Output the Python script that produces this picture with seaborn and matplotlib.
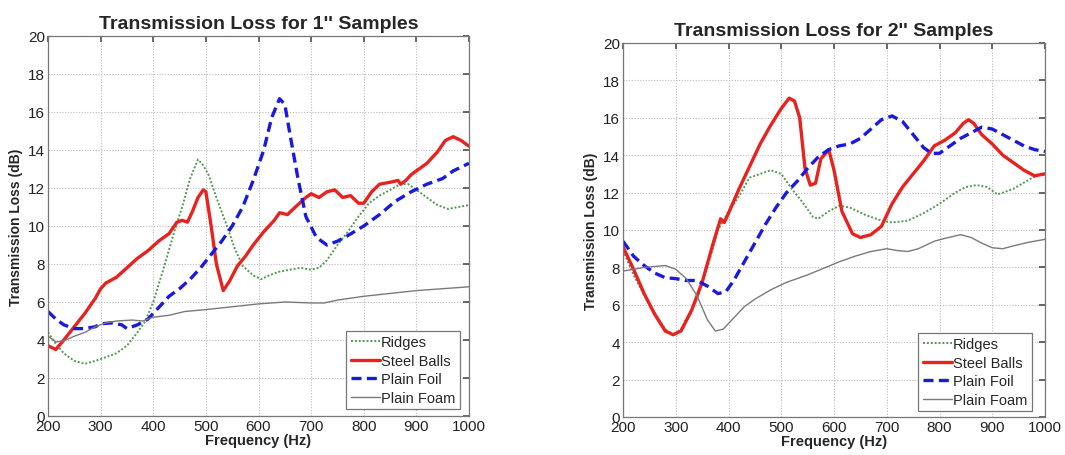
import numpy as np
import pandas as pd
import matplotlib
matplotlib.use("Agg")
import matplotlib.pyplot as plt
import seaborn as sns

# ---------------- Left panel: 1" samples ----------------
l_steel_f = [200,215,230,250,270,290,300,310,330,350,370,390,410,430,445,455,465,475,485,495,500,510,520,533,545,560,575,590,610,630,640,655,670,690,700,715,730,745,760,775,790,800,815,830,850,865,870,880,890,900,920,940,955,970,985,1000]
l_steel_v = [3.7,3.5,4.0,4.7,5.4,6.2,6.7,7.0,7.3,7.8,8.3,8.7,9.2,9.6,10.2,10.3,10.2,10.8,11.5,11.9,11.8,10.0,8.0,6.6,7.1,7.9,8.4,9.0,9.7,10.3,10.7,10.6,11.0,11.5,11.7,11.5,11.8,11.9,11.5,11.6,11.2,11.2,11.8,12.2,12.3,12.4,12.2,12.4,12.7,12.9,13.3,13.9,14.5,14.7,14.5,14.2]

l_foil_f = [200,215,230,250,270,290,300,320,340,350,370,390,410,430,450,470,490,510,530,550,570,590,610,625,640,650,660,675,690,710,730,750,770,800,830,860,890,920,950,970,1000]
l_foil_v = [5.5,5.1,4.8,4.6,4.6,4.7,4.85,4.9,4.8,4.6,4.8,5.1,5.7,6.3,6.7,7.2,7.8,8.5,9.2,10.0,11.0,12.4,14.0,15.7,16.7,16.4,14.8,12.5,10.5,9.4,9.0,9.2,9.5,10.0,10.6,11.3,11.8,12.2,12.5,12.9,13.3]

l_ridge_f = [200,215,230,250,270,290,310,330,350,370,385,400,420,440,455,470,485,495,505,520,540,555,570,590,605,620,640,660,680,700,715,730,750,770,790,810,830,850,870,885,900,920,940,960,980,1000]
l_ridge_v = [4.4,3.8,3.3,2.9,2.75,2.9,3.1,3.3,3.7,4.4,5.0,6.0,7.8,9.7,11.0,12.5,13.5,13.2,12.7,11.5,10.0,8.8,7.9,7.4,7.2,7.4,7.6,7.7,7.8,7.7,7.8,8.2,9.0,9.7,10.5,11.2,11.6,11.9,12.2,12.2,11.9,11.5,11.1,10.9,11.0,11.1]

l_foam_f = [200,215,230,250,270,290,310,330,360,380,400,430,460,500,550,600,650,700,725,750,800,850,900,950,1000]
l_foam_v = [4.2,3.9,3.95,4.2,4.4,4.7,4.9,5.0,5.05,5.0,5.2,5.3,5.5,5.6,5.75,5.9,6.0,5.95,5.95,6.1,6.3,6.45,6.6,6.7,6.8]

# ---------------- Right panel: 2" samples ----------------
r_steel_f = [200,220,240,260,280,295,310,330,350,370,385,392,400,420,440,460,480,500,515,525,535,545,555,565,575,590,600,615,635,650,670,690,710,730,750,770,790,810,830,845,855,865,880,900,920,940,960,980,1000]
r_steel_v = [9.1,7.9,6.6,5.5,4.6,4.4,4.6,5.7,7.2,9.2,10.6,10.4,10.9,12.2,13.4,14.6,15.6,16.5,17.05,16.9,16.0,13.3,12.4,12.5,13.8,14.3,13.2,11.0,9.8,9.6,9.75,10.2,11.4,12.3,13.0,13.7,14.5,14.8,15.2,15.7,15.9,15.7,15.1,14.6,14.0,13.6,13.2,12.9,13.0]

r_foil_f = [200,220,240,260,280,300,320,340,360,380,395,410,430,450,470,490,510,530,550,570,590,610,630,650,670,690,710,730,750,770,785,800,820,840,860,880,900,920,940,960,980,1000]
r_foil_v = [9.4,8.6,8.1,7.7,7.45,7.4,7.3,7.3,7.0,6.6,6.7,7.3,8.3,9.3,10.3,11.2,12.0,12.6,13.3,13.9,14.3,14.5,14.6,14.9,15.4,15.9,16.1,15.8,15.1,14.4,14.1,14.1,14.5,14.9,15.2,15.5,15.4,15.1,14.8,14.5,14.3,14.2]

r_ridge_f = [200,220,250,280,295,310,340,360,380,400,420,440,480,500,520,540,560,570,590,610,630,660,690,710,740,770,800,830,850,870,890,910,940,970,990,1000]
r_ridge_v = [8.9,7.6,6.0,4.7,4.4,4.7,6.3,8.0,10.0,11.0,11.8,12.8,13.2,13.0,12.2,11.5,10.7,10.6,11.0,11.3,11.2,10.8,10.5,10.4,10.5,10.9,11.4,12.0,12.3,12.4,12.3,11.9,12.2,12.7,13.0,13.0]

r_foam_f = [200,220,240,260,280,300,320,340,360,375,390,410,430,450,480,510,550,580,610,640,670,700,720,740,760,790,810,840,860,880,900,920,940,970,1000]
r_foam_v = [7.8,7.9,8.0,8.05,8.1,7.9,7.4,6.5,5.2,4.6,4.7,5.3,5.9,6.3,6.8,7.2,7.6,7.95,8.3,8.6,8.85,9.0,8.9,8.85,9.0,9.4,9.55,9.75,9.6,9.3,9.05,9.0,9.15,9.35,9.5]

titles = ["Transmission Loss for 1'' Samples", "Transmission Loss for 2'' Samples"]
series_names = ["Ridges", "Steel Balls", "Plain Foil", "Plain Foam"]
x_ticks = [200, 300, 400, 500, 600, 700, 800, 900, 1000]
y_ticks = [0, 2, 4, 6, 8, 10, 12, 14, 16, 18, 20]

sns.set_theme(style="white")
plt.rcParams['font.family'] = ['Liberation Sans', 'DejaVu Sans']

styles = {
    "Ridges": dict(color="#4f9a4f", linestyle=(0, (1, 1)), linewidth=1.4),
    "Steel Balls": dict(color="#e8231f", linestyle="-", linewidth=2.4),
    "Plain Foil": dict(color="#1a1adf", linestyle=(0, (3, 1.6)), linewidth=2.4),
    "Plain Foam": dict(color="#7a7a7a", linestyle="-", linewidth=1.0),
}

panels = [
    {"Ridges": (l_ridge_f, l_ridge_v), "Steel Balls": (l_steel_f, l_steel_v),
     "Plain Foil": (l_foil_f, l_foil_v), "Plain Foam": (l_foam_f, l_foam_v)},
    {"Ridges": (r_ridge_f, r_ridge_v), "Steel Balls": (r_steel_f, r_steel_v),
     "Plain Foil": (r_foil_f, r_foil_v), "Plain Foam": (r_foam_f, r_foam_v)},
]

fig = plt.figure(figsize=(10.65, 4.56), dpi=100)
ax_pos = [
    [48/1065, 1-417/456, (469-48)/1065, (417-37)/456],
    [623/1065, 1-418/456, (1045-623)/1065, (418-44)/456],
]
legend_anchor = [(460/1065, 1-410/456), (1032/1065, 1-412/456)]

for i, panel in enumerate(panels):
    ax = fig.add_axes(ax_pos[i])
    for name in series_names:
        f, v = panel[name]
        df = pd.DataFrame({"Frequency": f, "TL": v})
        st = styles[name]
        sns.lineplot(data=df, x="Frequency", y="TL", ax=ax, color=st["color"],
                     linewidth=st["linewidth"], label=name, estimator=None,
                     sort=True, legend=False)
        ax.lines[-1].set_linestyle(st["linestyle"])
        ax.lines[-1].set_label(name)
    ax.set_xlim(200, 1000)
    ax.set_ylim(0, 20)
    ax.set_xticks(x_ticks)
    ax.set_yticks(y_ticks)
    ax.tick_params(axis="both", direction="in", labelsize=11, length=4,
                   color="#555555", labelcolor="#222222", pad=2, top=True, right=True)
    ax.grid(True, color="#bbbbbb", linestyle=(0, (1, 1.5)), linewidth=0.8)
    for sp in ax.spines.values():
        sp.set_color("#777777")
        sp.set_linewidth(0.9)
    ax.set_xlabel("Frequency (Hz)", fontsize=10.5, fontweight="bold", labelpad=0)
    ax.set_ylabel("Transmission Loss (dB)", fontsize=10, fontweight="bold", labelpad=4)
    ax.set_title(titles[i], fontsize=14, fontweight="bold", pad=6)
    leg = ax.legend(loc="lower right", bbox_to_anchor=legend_anchor[i],
                    bbox_transform=fig.transFigure, fontsize=10.5, frameon=True,
                    fancybox=False, framealpha=1, edgecolor="#777777",
                    handlelength=2.0, handletextpad=0.1, labelspacing=0.3,
                    borderpad=0.3, borderaxespad=0)
    leg.get_frame().set_linewidth(0.9)

fig.savefig("out.png", dpi=100, facecolor="white")
